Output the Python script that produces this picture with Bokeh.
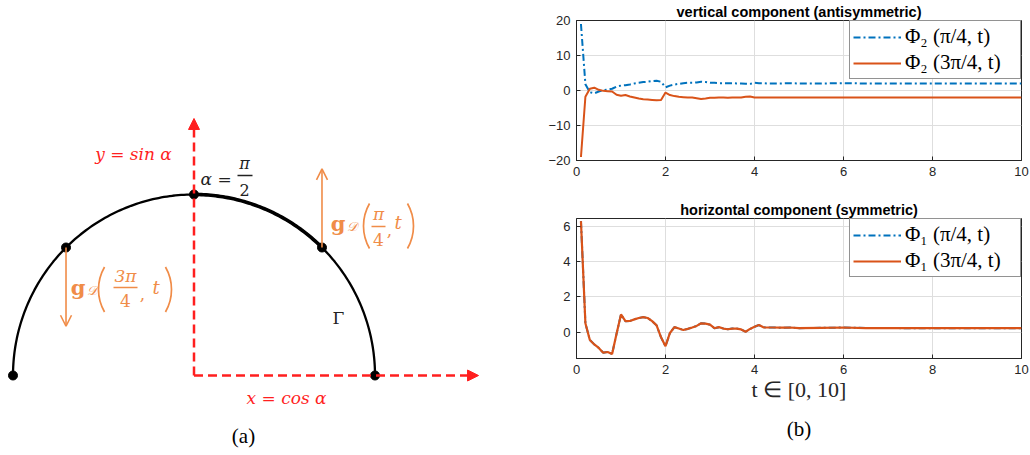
import numpy as np
from bokeh.plotting import figure
from bokeh.layouts import row, column
from bokeh.models import Range1d, Arrow, NormalHead, OpenHead, Legend, LegendItem, Title
from bokeh.core.properties import value
from bokeh.embed import file_html
from bokeh.resources import INLINE

# ---------------- data ----------------
t_vals = [0.1, 0.2, 0.3, 0.4, 0.5, 0.6, 0.7, 0.8, 0.9, 1.0,
          1.1, 1.2, 1.3, 1.4, 1.5, 1.6, 1.7, 1.8, 1.9, 2.0,
          2.1, 2.2, 2.3, 2.4, 2.5, 2.6, 2.7, 2.8, 2.9, 3.0,
          3.1, 3.2, 3.3, 3.4, 3.5, 3.6, 3.7, 3.8, 3.9, 4.0,
          4.1, 4.2, 4.3, 4.4,
          4.6, 4.8, 5.0, 5.5, 6.0, 6.5, 7.0, 7.5, 8.0, 8.5, 9.0, 9.5, 10.0]

phi2_pi4 = [19.0, 1.8, -0.5, -0.8, -0.3, 0.1, 0.3, 0.5, 1.1, 1.4,
            1.5, 1.7, 2.0, 2.2, 2.4, 2.5, 2.7, 2.8, 2.5, 0.9,
            1.4, 1.7, 1.9, 2.1, 2.2, 2.2, 2.3, 2.5, 2.4, 2.2,
            2.2, 2.1, 2.1, 2.1, 2.1, 2.0, 2.0, 1.9, 1.9, 2.2,
            2.1, 2.1, 2.0, 2.0,
            2.0, 2.1, 2.0, 2.0, 2.1, 2.0, 2.0, 2.0, 2.0, 2.0, 2.0, 2.0, 2.0]

phi2_3pi4 = [-19.0, -1.8, 0.5, 0.8, 0.2, -0.1, -0.2, -0.3, -1.2, -1.5,
             -1.3, -1.7, -2.0, -2.3, -2.5, -2.6, -2.7, -2.8, -2.7, -0.6,
             -1.3, -1.6, -1.8, -1.9, -2.0, -2.0, -2.2, -2.4, -2.3, -2.1,
             -2.1, -2.0, -2.0, -2.1, -2.0, -2.0, -2.0, -1.8, -1.7, -2.0,
             -2.0, -2.0, -2.0, -2.0,
             -2.0, -2.0, -2.0, -2.0, -2.0, -2.0, -2.0, -2.0, -2.0, -2.0, -2.0, -2.0, -2.0]

phi1_pi4 = [6.3, 0.5, -0.45, -0.7, -0.9, -1.17, -1.13, -1.24, -0.1, 1.0,
            0.62, 0.63, 0.72, 0.8, 0.85, 0.8, 0.62, 0.38, -0.3, -0.8,
            -0.05, 0.28, 0.2, 0.12, 0.18, 0.26, 0.35, 0.5, 0.48, 0.42,
            0.22, 0.28, 0.2, 0.16, 0.2, 0.2, 0.15, 0.02, 0.18, 0.3,
            0.4, 0.27, 0.26, 0.26,
            0.25, 0.26, 0.22, 0.24, 0.26, 0.23, 0.23, 0.22, 0.22, 0.22, 0.22, 0.22, 0.22]

phi1_3pi4 = [6.3, 0.5, -0.45, -0.7, -0.9, -1.17, -1.13, -1.24, -0.1, 1.0,
             0.62, 0.63, 0.72, 0.8, 0.85, 0.8, 0.62, 0.38, -0.3, -0.8,
             -0.05, 0.28, 0.2, 0.12, 0.18, 0.26, 0.35, 0.5, 0.48, 0.42,
             0.22, 0.28, 0.2, 0.16, 0.2, 0.2, 0.15, 0.02, 0.18, 0.3,
             0.4, 0.27, 0.26, 0.26,
             0.25, 0.26, 0.22, 0.24, 0.26, 0.23, 0.23, 0.22, 0.22, 0.22, 0.22, 0.22, 0.22]

x_ticks = [0, 2, 4, 6, 8, 10]
top_y_ticks = [-20, -10, 0, 10, 20]
bottom_y_ticks = [0, 2, 4, 6]

top_title = "vertical component (antisymmetric)"
bottom_title = "horizontal component (symmetric)"
top_labels = ["Φ₂ (π/4, t)", "Φ₂ (3π/4, t)"]
bottom_labels = ["Φ₁ (π/4, t)", "Φ₁ (3π/4, t)"]
x_label = "t ∈ [0, 10]"

# diagram geometry: points on the unit half circle Γ
alpha_points = [0.0, np.pi / 4, np.pi / 2, 3 * np.pi / 4, np.pi]
force_alphas = [np.pi / 4, 3 * np.pi / 4]
force_signs = [1, -1]

BLUE = "#0072BD"
ORANGE = "#D95319"
LORANGE = "#F08C48"
RED = "#FF1F1F"
AXC = "#262626"

# ---------------- left diagram ----------------
W, H = 540, 455
S = 181.0
CX, CY = 193.5, 375.0


def P(px, py):
    return (px - CX) / S, (CY - py) / S


d = figure(width=W, height=H, x_range=Range1d(-CX / S, (W - CX) / S),
           y_range=Range1d(-(H - CY) / S, CY / S),
           x_axis_type=None, y_axis_type=None, toolbar_location=None,
           output_backend="svg", min_border=0, outline_line_color=None)
d.grid.visible = False

# red dashed coordinate axes
d.add_layout(Arrow(x_start=0, y_start=0, x_end=0, y_end=1.42,
                   line_color=RED, line_width=2.5, line_dash="9 5",
                   end=NormalHead(size=11, fill_color=RED, line_color=RED)))
d.add_layout(Arrow(x_start=0, y_start=0, x_end=1.572, y_end=0,
                   line_color=RED, line_width=2.5, line_dash="9 5",
                   end=NormalHead(size=11, fill_color=RED, line_color=RED)))

a = np.linspace(0, np.pi, 200)
d.line(np.cos(a), np.sin(a), line_color="black", line_width=2.3)
a2 = np.linspace(np.pi / 4, np.pi / 2, 60)
d.line(np.cos(a2), np.sin(a2), line_color="black", line_width=3.6)
d.scatter(np.cos(alpha_points), np.sin(alpha_points), size=9, color="black")

for al, sg in zip(force_alphas, force_signs):
    x0, y0 = np.cos(al), np.sin(al)
    d.add_layout(Arrow(x_start=x0, y_start=y0, x_end=x0, y_end=y0 + sg * 0.435,
                       line_color=LORANGE, line_width=1.6,
                       end=OpenHead(size=11, line_color=LORANGE, line_width=1.6)))


def txt(px, py, s, color="black", size="17px", style="normal", font="DejaVu Serif", align="center"):
    x, y = P(px, py)
    d.text(x=[x], y=[y], text=[s], text_color=color, text_font=value(font),
           text_font_size=size, text_font_style=style, text_align=align,
           text_baseline="middle")


def bar(px0, px1, py, color):
    x0, y = P(px0, py)
    x1, _ = P(px1, py)
    d.line([x0, x1], [y, y], line_color=color, line_width=1.3)


def paren(px_mid, py, left, color):
    r = 45
    if left:
        cx, cy = P(px_mid + r, py)
        d.arc(x=[cx], y=[cy], radius=r, radius_units="screen",
              start_angle=np.radians(150), end_angle=np.radians(210),
              line_color=color, line_width=1.7)
    else:
        cx, cy = P(px_mid - r, py)
        d.arc(x=[cx], y=[cy], radius=r, radius_units="screen",
              start_angle=np.radians(-30), end_angle=np.radians(30),
              line_color=color, line_width=1.7)


txt(133, 153, "y = sin α", RED, "17px", "italic")
txt(286, 397, "x = cos α", RED, "17px", "italic")
txt(200, 178, "α =", "#222222", "17px", "italic", align="left")
txt(244, 163, "π", "#222222", "16px", "italic")
bar(237, 252, 175, "#222222")
txt(244, 189, "2", "#222222", "16px")
txt(338, 317, "Γ", "#222222", "17px")

# g_D(pi/4, t)
txt(337.5, 223, "g", LORANGE, "21px", "bold")
txt(351.5, 226, "𝒟", LORANGE, "13px", "italic")
paren(363, 225.5, True, LORANGE)
txt(378, 213, "π", LORANGE, "17px", "italic")
bar(371, 385, 226, LORANGE)
txt(378, 239, "4", LORANGE, "17px")
txt(389, 229, ",", LORANGE, "17px")
txt(397.5, 222, "t", LORANGE, "18px", "italic")
paren(413, 225.5, False, LORANGE)

# g_D(3pi/4, t)
txt(77.5, 287, "g", LORANGE, "21px", "bold")
txt(91.5, 290, "𝒟", LORANGE, "13px", "italic")
paren(98, 289, True, LORANGE)
txt(125, 275, "3π", LORANGE, "17px", "italic")
bar(113, 137, 287, LORANGE)
txt(125, 300, "4", LORANGE, "17px")
txt(142, 293, ",", LORANGE, "17px")
txt(155.5, 287, "t", LORANGE, "18px", "italic")
paren(171, 289, False, LORANGE)

txt(243, 435, "(a)", "black", "21px", "normal", "Liberation Serif")


# ---------------- right plots ----------------
def style(p, yticks):
    p.xaxis.ticker = x_ticks
    p.yaxis.ticker = yticks
    p.grid.grid_line_color = "#dedede"
    p.grid.grid_line_width = 1
    p.axis.axis_line_color = AXC
    p.axis.major_tick_line_color = AXC
    p.axis.major_tick_in = 4
    p.axis.major_tick_out = 0
    p.axis.minor_tick_in = 0
    p.axis.minor_tick_out = 0
    p.axis.major_label_text_font = "Liberation Sans"
    p.axis.major_label_text_font_size = "13px"
    p.axis.major_label_text_color = AXC
    p.axis.major_label_standoff = 6
    p.outline_line_color = AXC
    p.outline_line_alpha = 1
    p.title.align = "center"
    p.title.text_font = "Liberation Sans"
    p.title.text_font_size = "14.5px"
    p.title.text_font_style = "bold"
    p.title.text_color = "black"
    p.title.standoff = 1


def add_legend(p, r1, r2, labels):
    leg = Legend(items=[LegendItem(label=labels[0], renderers=[r1]),
                        LegendItem(label=labels[1], renderers=[r2])],
                 location="top_right", margin=0, padding=3, spacing=1,
                 glyph_width=48, glyph_height=22, label_height=22,
                 label_width=112,
                 label_standoff=4, label_text_font="Liberation Serif",
                 label_text_font_size="21px", label_text_color="black",
                 border_line_color=AXC, border_line_width=1,
                 background_fill_color="white", background_fill_alpha=1)
    p.add_layout(leg)


p1 = figure(width=490, height=195, x_range=Range1d(0, 10), y_range=Range1d(-20, 20),
            min_border_left=36, min_border_right=9, min_border_top=20, min_border_bottom=35,
            toolbar_location=None, output_backend="svg", title=top_title)
style(p1, top_y_ticks)
r1 = p1.line(t_vals, phi2_pi4, line_color=BLUE, line_width=2, line_dash="7 3 2 3")
r2 = p1.line(t_vals, phi2_3pi4, line_color=ORANGE, line_width=2)
add_legend(p1, r1, r2, top_labels)

p2 = figure(width=490, height=260, x_range=Range1d(0, 10), y_range=Range1d(-1.5, 6.45),
            min_border_left=36, min_border_right=9, min_border_top=23, min_border_bottom=97,
            toolbar_location=None, output_backend="svg", title=bottom_title)
style(p2, bottom_y_ticks)
r3 = p2.line(t_vals, phi1_pi4, line_color=BLUE, line_width=2, line_dash="7 3 2 3")
r4 = p2.line(t_vals, phi1_3pi4, line_color=ORANGE, line_width=2.2)
add_legend(p2, r3, r4, bottom_labels)
p2.xaxis.axis_label = x_label
p2.xaxis.axis_label_text_font = "Liberation Serif"
p2.xaxis.axis_label_text_font_style = "normal"
p2.xaxis.axis_label_text_font_size = "22px"
p2.xaxis.axis_label_text_color = "#262626"
p2.xaxis.axis_label_standoff = 0
p2.add_layout(Title(text="(b)", align="center", text_font="Liberation Serif",
                    text_font_size="21px", text_font_style="normal",
                    text_color="black", standoff=20), "below")

layout = row(d, column(p1, p2))
open("out.html", "w").write(file_html(layout, INLINE))
